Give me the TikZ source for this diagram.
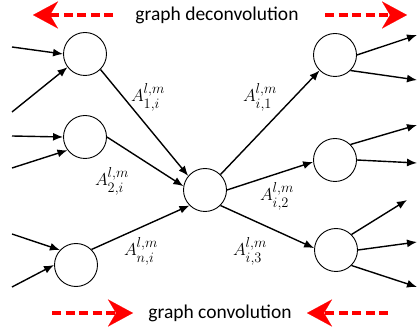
\documentclass[tikz,border=0pt]{standalone}
\usepackage{amsmath}
\usepackage{fontspec}
\setmainfont{Carlito}
\usetikzlibrary{arrows.meta}

\begin{document}
\begin{tikzpicture}[x=1pt, y=-1pt, thick, line width=1.4pt,
  noeud/.style={circle, draw, line width=0.9pt, minimum size=43pt, inner sep=0pt},
  fleche/.style={-{Latex[length=10pt,width=8pt]}},
  rouge/.style={draw=red, line width=4.5pt, dash pattern=on 9pt off 4.5pt,
    -{Stealth[length=25pt,width=27pt,inset=8pt,line width=0.1pt,fill=red]}},
  poids/.style={font=\fontsize{19}{21}\selectfont},
  titre/.style={font=\fontsize{19.5}{22}\selectfont}]
\useasboundingbox (0,0) rectangle (417,328);
% Noeuds
\node[noeud] (L1) at (85,54) {};
\node[noeud] (L2) at (85,137) {};
\node[noeud] (L3) at (76,265) {};
\node[noeud] (C) at (205,190) {};
\node[noeud] (R1) at (335,55) {};
\node[noeud] (R2) at (335,160) {};
\node[noeud] (R3) at (336,250) {};
% Entrees
\coordinate (e1) at (12,47);
\coordinate (e2) at (12,112);
\coordinate (e3) at (12,136);
\coordinate (e4) at (12,168);
\coordinate (e5) at (12,234);
\coordinate (e6) at (12,287);
\draw[fleche] (e1) -- (L1.west);
\draw[fleche] (e2) -- (L1.217);
\draw[fleche] (e3) -- (L2.west);
\draw[fleche] (e4) -- (L2.217);
\draw[fleche] (e5) -- (L3.137);
\draw[fleche] (e6) -- (L3.west);
% Sorties
\coordinate (s1) at (417,35);
\coordinate (s2) at (417,80);
\coordinate (s3) at (417,125);
\coordinate (s4) at (417,163);
\coordinate (s5) at (407,200);
\coordinate (s6) at (417,242);
\coordinate (s7) at (417,287);
\draw[fleche] (R1.east) -- (s1);
\draw[fleche] (R1.-45) -- (s2);
\draw[fleche] (R2.45) -- (s3);
\draw[fleche] (R2.east) -- (s4);
\draw[fleche] (R3.45) -- (s5);
\draw[fleche] (R3.east) -- (s6);
\draw[fleche] (R3.-45) -- (s7);
% Vers le noeud central et depuis
\draw[fleche] (L1.-45) -- (C.140);
\draw[fleche] (L2.east) -- (C.170);
\draw[fleche] (L3.45) -- (C.225);
\draw[fleche] (C.45) -- (R1.225);
\draw[fleche] (C.east) -- (R2.185);
\draw[fleche] (C.-45) -- (R3.175);
% Poids
\node[poids] (a1) at (148,97) {$A^{l,m}_{1,i}$};
\node[poids] (a2) at (112,181) {$A^{l,m}_{2,i}$};
\node[poids] (an) at (141,251) {$A^{l,m}_{n,i}$};
\node[poids] (b1) at (260,97) {$A^{l,m}_{i,1}$};
\node[poids] (b2) at (277,196) {$A^{l,m}_{i,2}$};
\node[poids] (b3) at (250,251) {$A^{l,m}_{i,3}$};
% Legendes
\node[titre] (deconv) at (217,15) {graph deconvolution};
\node[titre] (conv) at (220,313) {graph convolution};
\coordinate (h1) at (113,15);
\coordinate (h2) at (33,15);
\coordinate (h3) at (325,15);
\coordinate (h4) at (407,15);
\coordinate (b5) at (52,313);
\coordinate (b6) at (133,313);
\coordinate (b7) at (388,313);
\coordinate (b8) at (307,313);
\draw[rouge] (h1) -- (h2);
\draw[rouge] (h3) -- (h4);
\draw[rouge] (b5) -- (b6);
\draw[rouge] (b7) -- (b8);
\end{tikzpicture}
\end{document}
